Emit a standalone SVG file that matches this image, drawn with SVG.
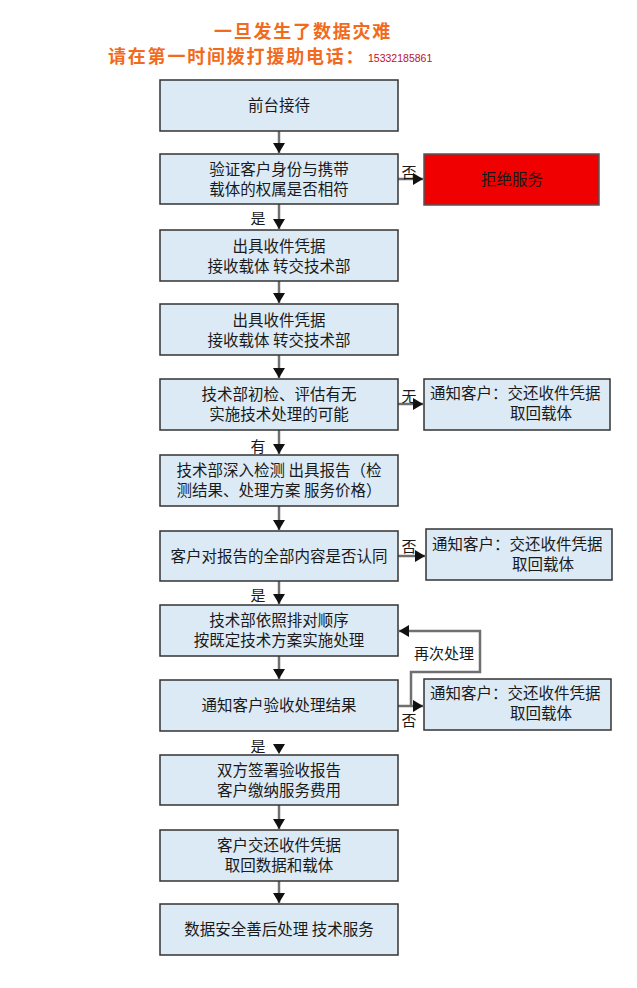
<svg xmlns="http://www.w3.org/2000/svg" width="637" height="988" viewBox="0 0 637 988">
<style>
.box{fill:#DCEAF6;stroke:#333;stroke-width:1.5}
.red{fill:#F00000;stroke:#555;stroke-width:1.5}
.t{font-family:"Noto Sans CJK SC","Liberation Sans",sans-serif;font-size:15.5px;fill:#1a1a1a;text-anchor:middle}
.ts{font-family:"Noto Sans CJK SC","Liberation Sans",sans-serif;font-size:15.5px;fill:#1a1a1a}
.lbl{font-family:"Noto Sans CJK SC","Liberation Sans",sans-serif;font-size:15px;fill:#1a1a1a;text-anchor:middle}
.title{font-family:"Noto Sans CJK SC","Liberation Sans",sans-serif;font-size:18px;font-weight:bold;fill:#F26A1B;letter-spacing:1.8px}
.c{fill:none;stroke:#707070;stroke-width:2.5}
</style>
<defs>
<marker id="ah" markerWidth="10" markerHeight="12" refX="10" refY="6" orient="auto" markerUnits="userSpaceOnUse">
<path d="M0,0 L10,6 L0,12 Z" fill="#111"/>
</marker>
</defs>
<rect width="637" height="988" fill="#fff"/>
<g id="title">
<text class="title" x="303" y="38" text-anchor="middle">一旦发生了数据灾难</text>
<text class="title" x="108" y="63">请在第一时间拨打援助电话：</text>
<text x="368" y="62" font-family="Liberation Sans, sans-serif" font-size="10.5px" fill="#C0102A">15332185861</text>
</g>
<g id="connectors">
<path class="c" d="M279,131 V153" marker-end="url(#ah)"/>
<path class="c" d="M398,179 H423" marker-end="url(#ah)"/>
<path class="c" d="M279,204 V229" marker-end="url(#ah)"/>
<path class="c" d="M279,281 V303" marker-end="url(#ah)"/>
<path class="c" d="M279,355 V378" marker-end="url(#ah)"/>
<path class="c" d="M398,404 H423" marker-end="url(#ah)"/>
<path class="c" d="M279,430 V454" marker-end="url(#ah)"/>
<path class="c" d="M279,506 V530" marker-end="url(#ah)"/>
<path class="c" d="M398,556 H425" marker-end="url(#ah)"/>
<path class="c" d="M279,581 V604" marker-end="url(#ah)"/>
<path class="c" d="M279,656 V679" marker-end="url(#ah)"/>
<path class="c" d="M398,706 H423" marker-end="url(#ah)"/>
<path class="c" d="M411,706 V672 H480 V631 H399" marker-end="url(#ah)"/>
<path class="c" d="M279,742 V754" stroke-opacity="0" marker-end="url(#ah)"/>
<path class="c" d="M279,805 V829" marker-end="url(#ah)"/>
<path class="c" d="M279,881 V903" marker-end="url(#ah)"/>
<text class="lbl" x="409" y="178">否</text>
<text class="lbl" x="258" y="224">是</text>
<text class="lbl" x="409" y="402">无</text>
<text class="lbl" x="258" y="452">有</text>
<text class="lbl" x="409" y="552">否</text>
<text class="lbl" x="258" y="601">是</text>
<text class="lbl" x="444" y="659">再次处理</text>
<text class="lbl" x="409" y="726">否</text>
<text class="lbl" x="258" y="752">是</text>
</g>
<g id="n1"><rect class="box" x="160" y="80" width="238" height="51"/><text class="t" x="279" y="111">前台接待</text></g>
<g id="n2"><rect class="box" x="160" y="154" width="238" height="50"/><text class="t" x="279" y="175">验证客户身份与携带</text><text class="t" x="279" y="195">载体的权属是否相符</text></g>
<g id="n3"><rect class="red" x="424" y="154" width="175" height="51"/><text class="t" x="512" y="185">拒绝服务</text></g>
<g id="n4"><rect class="box" x="160" y="230" width="238" height="51"/><text class="t" x="279" y="252">出具收件凭据</text><text class="t" x="279" y="272">接收载体  转交技术部</text></g>
<g id="n5"><rect class="box" x="160" y="304" width="238" height="51"/><text class="t" x="279" y="326">出具收件凭据</text><text class="t" x="279" y="346">接收载体  转交技术部</text></g>
<g id="n6"><rect class="box" x="160" y="379" width="238" height="51"/><text class="t" x="279" y="400">技术部初检、评估有无</text><text class="t" x="279" y="420">实施技术处理的可能</text></g>
<g id="n7"><rect class="box" x="424" y="379" width="186" height="51"/><text class="ts" x="430" y="399">通知客户：交还收件凭据</text><text class="ts" x="510" y="419">取回载体</text></g>
<g id="n8"><rect class="box" x="160" y="455" width="238" height="51"/><text class="t" x="279" y="476">技术部深入检测 出具报告（检</text><text class="t" x="279" y="496">测结果、处理方案 服务价格）</text></g>
<g id="n9"><rect class="box" x="160" y="531" width="238" height="50"/><text class="t" x="279" y="562">客户对报告的全部内容是否认同</text></g>
<g id="n10"><rect class="box" x="426" y="529" width="186" height="51"/><text class="ts" x="432" y="550">通知客户：交还收件凭据</text><text class="ts" x="512" y="570">取回载体</text></g>
<g id="n11"><rect class="box" x="160" y="605" width="238" height="51"/><text class="t" x="279" y="626">技术部依照排对顺序</text><text class="t" x="279" y="646">按既定技术方案实施处理</text></g>
<g id="n12"><rect class="box" x="160" y="680" width="238" height="51"/><text class="t" x="279" y="711">通知客户验收处理结果</text></g>
<g id="n13"><rect class="box" x="424" y="679" width="187" height="51"/><text class="ts" x="430" y="699">通知客户：交还收件凭据</text><text class="ts" x="510" y="719">取回载体</text></g>
<g id="n14"><rect class="box" x="160" y="755" width="238" height="50"/><text class="t" x="279" y="776">双方签署验收报告</text><text class="t" x="279" y="796">客户缴纳服务费用</text></g>
<g id="n15"><rect class="box" x="160" y="830" width="238" height="51"/><text class="t" x="279" y="851">客户交还收件凭据</text><text class="t" x="279" y="871">取回数据和载体</text></g>
<g id="n16"><rect class="box" x="160" y="904" width="238" height="51"/><text class="t" x="279" y="935">数据安全善后处理  技术服务</text></g>
</svg>
